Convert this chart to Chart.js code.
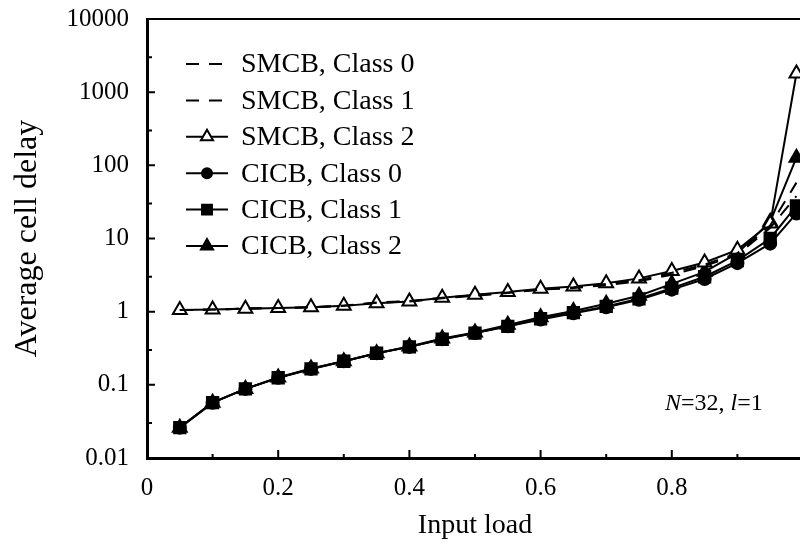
<!DOCTYPE html>
<html>
<head>
<meta charset="utf-8">
<script src="https://cdn.jsdelivr.net/npm/chart.js@4.4.1/dist/chart.umd.min.js"></script>
<style>
html, body { margin: 0; padding: 0; background: #fff; overflow: hidden; }
#delayChart { display: block; }
</style>
</head>
<body>
<canvas id="delayChart" width="813" height="548"></canvas>
<script>
// Input load at each simulated point
const loads = [0.05, 0.1, 0.15, 0.2, 0.25, 0.3, 0.35, 0.4, 0.45, 0.5,
               0.55, 0.6, 0.65, 0.7, 0.75, 0.8, 0.85, 0.9, 0.95, 0.99];

// Average cell delay per scheme / class
const smcbClass0 = [1.05, 1.07, 1.1, 1.12, 1.15, 1.2, 1.32, 1.38, 1.52, 1.65,
                    1.8, 2.0, 2.1, 2.3, 2.6, 3.2, 4.2, 6.0, 14, 38];
const smcbClass1 = [1.05, 1.07, 1.1, 1.12, 1.15, 1.21, 1.33, 1.4, 1.55, 1.68,
                    1.83, 2.02, 2.15, 2.4, 2.7, 3.4, 4.4, 6.3, 15, 58];
const smcbClass2 = [1.05, 1.07, 1.1, 1.12, 1.15, 1.2, 1.3, 1.38, 1.55, 1.7,
                    1.85, 2.05, 2.2, 2.45, 2.85, 3.6, 4.7, 7.0, 16, 1800];
const cicbClass0 = [0.026, 0.057, 0.088, 0.125, 0.165, 0.21, 0.27, 0.33, 0.42, 0.51,
                    0.63, 0.78, 0.95, 1.15, 1.45, 2.0, 2.8, 4.6, 8.5, 22];
const cicbClass1 = [0.026, 0.057, 0.088, 0.125, 0.165, 0.21, 0.27, 0.33, 0.42, 0.51,
                    0.63, 0.8, 0.97, 1.18, 1.5, 2.1, 3.0, 5.0, 10, 28];
const cicbClass2 = [0.026, 0.057, 0.088, 0.126, 0.167, 0.21, 0.27, 0.335, 0.43, 0.52,
                    0.66, 0.84, 1.02, 1.28, 1.65, 2.4, 3.5, 6.3, 17, 127];

const seriesLabels = ['SMCB, Class 0', 'SMCB, Class 1', 'SMCB, Class 2',
                      'CICB, Class 0', 'CICB, Class 1', 'CICB, Class 2'];

// Axis ticks
const yTickValues = [0.01, 0.1, 1, 10, 100, 1000, 10000];
const yTickLabels = ['0.01', '0.1', '1', '10', '100', '1000', '10000'];
const yMinorValues = [0.03, 0.3, 3, 30, 300, 3000];
const xTickValues = [0, 0.2, 0.4, 0.6, 0.8, 1];
const xTickLabels = ['0', '0.2', '0.4', '0.6', '0.8', ''];
const xMinorValues = [0.1, 0.3, 0.5, 0.7, 0.9];

const SERIF = "'Liberation Serif', 'DejaVu Serif', serif";
Chart.defaults.font.family = SERIF;
Chart.defaults.color = '#000';

function toPoints(values) {
    return values.map((v, i) => ({ x: loads[i], y: v }));
}

function makeDataset(label, values, style) {
    return Object.assign({
        label: label,
        data: toPoints(values),
        borderColor: '#000',
        backgroundColor: '#000',
        borderWidth: 2,
        pointBorderColor: '#000',
        pointBorderWidth: 2,
        pointRadius: 0,
        tension: 0
    }, style);
}

const datasets = [
    makeDataset(seriesLabels[0], smcbClass0, { borderDash: [13, 10] }),
    makeDataset(seriesLabels[1], smcbClass1, { borderDash: [13, 10] }),
    makeDataset(seriesLabels[2], smcbClass2, {
        pointStyle: 'triangle', pointRadius: 8, pointBackgroundColor: '#fff'
    }),
    makeDataset(seriesLabels[3], cicbClass0, {
        pointStyle: 'circle', pointRadius: 6, pointBackgroundColor: '#000'
    }),
    makeDataset(seriesLabels[4], cicbClass1, {
        pointStyle: 'rect', pointRadius: 8, pointBackgroundColor: '#000'
    }),
    makeDataset(seriesLabels[5], cicbClass2, {
        pointStyle: 'triangle', pointRadius: 8, pointBackgroundColor: '#000'
    })
];

// Inward tick marks plus the top frame line
const frameTicks = {
    id: 'frameTicks',
    afterDraw(chart) {
        const ctx = chart.ctx;
        const area = chart.chartArea;
        const xs = chart.scales.x;
        const ys = chart.scales.y;
        ctx.save();
        ctx.strokeStyle = '#000';
        ctx.lineWidth = 2;
        ctx.beginPath();
        ctx.moveTo(area.left, area.top);
        ctx.lineTo(area.right, area.top);
        yTickValues.forEach(v => {
            const y = ys.getPixelForValue(v);
            ctx.moveTo(area.left, y);
            ctx.lineTo(area.left + 8, y);
        });
        yMinorValues.forEach(v => {
            const y = ys.getPixelForValue(v);
            ctx.moveTo(area.left, y);
            ctx.lineTo(area.left + 5, y);
        });
        xTickValues.forEach(v => {
            const x = xs.getPixelForValue(v);
            ctx.moveTo(x, area.bottom);
            ctx.lineTo(x, area.bottom - 8);
        });
        xMinorValues.forEach(v => {
            const x = xs.getPixelForValue(v);
            ctx.moveTo(x, area.bottom);
            ctx.lineTo(x, area.bottom - 4);
        });
        ctx.stroke();
        ctx.restore();
    }
};

// Legend inside the plot, upper left
const insideLegend = {
    id: 'insideLegend',
    afterDatasetsDraw(chart) {
        const ctx = chart.ctx;
        ctx.save();
        ctx.font = '28px ' + SERIF;
        ctx.textBaseline = 'middle';
        ctx.textAlign = 'left';
        chart.data.datasets.forEach((ds, i) => {
            const y = 64 + i * 36.4;
            ctx.strokeStyle = '#000';
            ctx.lineWidth = 2;
            ctx.setLineDash(ds.borderDash || []);
            ctx.beginPath();
            ctx.moveTo(186, y);
            ctx.lineTo(228, y);
            ctx.stroke();
            ctx.setLineDash([]);
            if (ds.pointRadius > 0) {
                ctx.fillStyle = ds.pointBackgroundColor;
                ctx.strokeStyle = '#000';
                ctx.lineWidth = 2;
                Chart.helpers.drawPoint(ctx, {
                    pointStyle: ds.pointStyle,
                    radius: ds.pointRadius - 1,
                    rotation: 0,
                    borderWidth: 2
                }, 207, y);
            }
            ctx.fillStyle = '#000';
            ctx.fillText(ds.label, 241, y + 1);
        });
        ctx.restore();
    }
};

// Parameter note, lower right
const paramNote = {
    id: 'paramNote',
    afterDraw(chart) {
        const ctx = chart.ctx;
        const parts = [
            { text: 'N', italic: true },
            { text: '=32, ', italic: false },
            { text: 'l', italic: true },
            { text: '=1', italic: false }
        ];
        ctx.save();
        ctx.fillStyle = '#000';
        ctx.textBaseline = 'middle';
        let x = 665;
        parts.forEach(p => {
            ctx.font = (p.italic ? 'italic ' : '') + '24px ' + SERIF;
            ctx.fillText(p.text, x, 404);
            x += ctx.measureText(p.text).width;
        });
        ctx.restore();
    }
};

new Chart(document.getElementById('delayChart'), {
    type: 'line',
    data: { datasets: datasets },
    options: {
        responsive: false,
        animation: false,
        layout: { padding: { top: 19, right: 3, left: 0, bottom: 0 } },
        plugins: {
            legend: { display: false },
            tooltip: { enabled: false }
        },
        scales: {
            x: {
                type: 'linear',
                min: 0,
                max: 1,
                grid: { display: false, drawTicks: false },
                border: { display: true, color: '#000', width: 3 },
                afterBuildTicks: scale => {
                    scale.ticks = xTickValues.map(v => ({ value: v }));
                },
                afterFit: scale => {
                    scale.height = 90;
                    scale.paddingLeft = 0;
                    scale.paddingRight = 0;
                },
                ticks: {
                    padding: 15,
                    maxRotation: 0,
                    font: { size: 25 },
                    callback: (value, index) => xTickLabels[index]
                },
                title: {
                    display: true,
                    text: 'Input load',
                    font: { size: 28 },
                    padding: { top: 0, bottom: 6 }
                }
            },
            y: {
                type: 'logarithmic',
                min: 0.01,
                max: 10000,
                grid: { display: false, drawTicks: false },
                border: { display: true, color: '#000', width: 3 },
                afterBuildTicks: scale => {
                    scale.ticks = yTickValues.map(v => ({ value: v }));
                },
                afterFit: scale => {
                    scale.width = 147;
                    scale.paddingTop = 0;
                    scale.paddingBottom = 0;
                },
                ticks: {
                    padding: 18,
                    font: { size: 25 },
                    callback: (value, index) => yTickLabels[index]
                },
                title: {
                    display: true,
                    text: 'Average cell delay',
                    font: { size: 32 },
                    padding: { top: 8, bottom: 0 }
                }
            }
        }
    },
    plugins: [frameTicks, insideLegend, paramNote]
});
</script>
</body>
</html>
